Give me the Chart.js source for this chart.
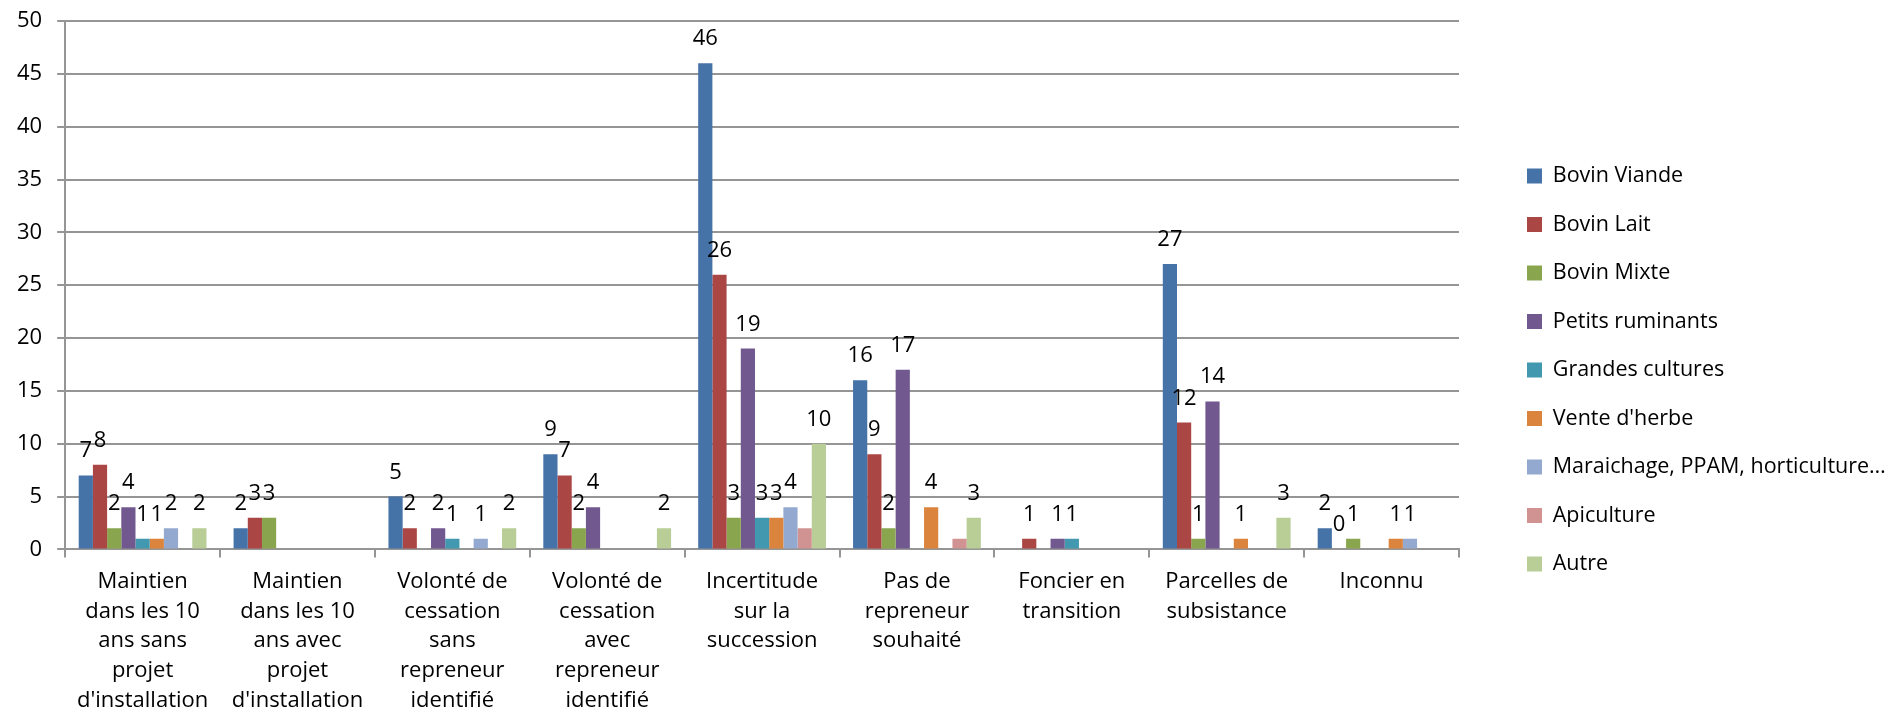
<!DOCTYPE html>
<html>
<head>
<meta charset="utf-8">
<script src="https://cdn.jsdelivr.net/npm/chart.js@4"></script>
<style>
  html, body { margin: 0; padding: 0; background: #fff; }
  #wrap { width: 1891px; height: 725px; }
</style>
</head>
<body>
<div id="wrap"><canvas id="chart"></canvas></div>
<script>
// categories (multi-line, as in the original axis)
const categories = [
    ['Maintien', 'dans les 10', 'ans sans', 'projet', "d'installation"],
    ['Maintien', 'dans les 10', 'ans avec', 'projet', "d'installation"],
    ['Volonté de', 'cessation', 'sans', 'repreneur', 'identifié'],
    ['Volonté de', 'cessation', 'avec', 'repreneur', 'identifié'],
    ['Incertitude', 'sur la', 'succession'],
    ['Pas de', 'repreneur', 'souhaité'],
    ['Foncier en', 'transition'],
    ['Parcelles de', 'subsistance'],
    ['Inconnu']
];

// series values, one array per series (null = no bar)
const bovinViande   = [7, 2, 5, 9, 46, 16, null, 27, 2];
const bovinLait     = [8, 3, 2, 7, 26, 9, 1, 12, 0];
const bovinMixte    = [2, 3, null, 2, 3, 2, null, 1, 1];
const petitsRum     = [4, null, 2, 4, 19, 17, 1, 14, null];
const grandesCult   = [1, null, 1, null, 3, null, 1, null, null];
const venteHerbe    = [1, null, null, null, 3, 4, null, 1, 1];
const maraichage    = [2, null, 1, null, 4, null, null, null, 1];
const apiculture    = [null, null, null, null, 2, 1, null, null, null];
const autre         = [2, null, 2, 2, 10, 3, null, 3, null];

const seriesNames = ['Bovin Viande', 'Bovin Lait', 'Bovin Mixte', 'Petits ruminants',
    'Grandes cultures', "Vente d'herbe", 'Maraichage, PPAM, horticulture…', 'Apiculture', 'Autre'];
const seriesValues = [bovinViande, bovinLait, bovinMixte, petitsRum, grandesCult,
    venteHerbe, maraichage, apiculture, autre];
const seriesColors = ['#4572A7', '#AA4643', '#89A54E', '#71588F', '#4198AF',
    '#DB843D', '#93A9CF', '#D19392', '#B9CD96'];
// Apiculture has no value labels in the original
const unlabelled = ['Apiculture'];

const yTicks = [0, 5, 10, 15, 20, 25, 30, 35, 40, 45, 50];

const FONT = '"Open Sans", Lato, sans-serif';
const FONT_SIZE = 22;
const LEGEND_SIZE = 21.5;
const gridColor = '#959595';
const legendWidth = 432;   // space kept right of the plot
const legendShift = { x: 41, y: -3 };

// draws the value above each bar
const valueLabels = {
    id: 'valueLabels',
    afterDatasetsDraw(chart) {
        const ctx = chart.ctx;
        ctx.save();
        ctx.font = FONT_SIZE + 'px ' + FONT;
        ctx.fillStyle = '#000';
        ctx.textAlign = 'center';
        ctx.textBaseline = 'alphabetic';
        chart.data.datasets.forEach((ds, i) => {
            if (unlabelled.includes(ds.label)) return;
            const meta = chart.getDatasetMeta(i);
            meta.data.forEach((bar, j) => {
                const v = ds.data[j];
                if (v === null || v === undefined) return;
                ctx.fillText(String(v), bar.x, bar.y - 18);
            });
        });
        ctx.restore();
    }
};

// nudges the legend block inside its reserved space
const legendNudge = {
    id: 'legendNudge',
    afterLayout(chart) {
        const lg = chart.legend;
        if (!lg) return;
        lg.left += legendShift.x;
        lg.right += legendShift.x;
        lg.top += legendShift.y;
        lg.bottom += legendShift.y;
    }
};

function drawChart() {
    const datasets = seriesNames.map((name, i) => ({
        label: name,
        data: seriesValues[i],
        backgroundColor: seriesColors[i],
        borderWidth: 0,
        barPercentage: 1,
        categoryPercentage: 0.825
    }));

    const chart = new Chart(document.getElementById('chart'), {
        type: 'bar',
        data: { labels: categories, datasets: datasets },
        options: {
            responsive: true,
            maintainAspectRatio: false,
            animation: false,
            layout: { padding: { left: 2, top: 21, right: 0, bottom: 0 } },
            plugins: {
                tooltip: { enabled: false },
                legend: {
                    position: 'right',
                    align: 'center',
                    labels: {
                        boxWidth: 15,
                        boxHeight: 15,
                        padding: 27,
                        color: '#000',
                        font: { family: FONT, size: LEGEND_SIZE }
                    }
                }
            },
            scales: {
                x: {
                    grid: {
                        display: true,
                        drawOnChartArea: false,
                        drawTicks: true,
                        tickLength: 8,
                        offset: true,
                        color: gridColor,
                        lineWidth: 2
                    },
                    border: { color: gridColor, width: 2 },
                    ticks: {
                        autoSkip: false,
                        maxRotation: 0,
                        minRotation: 0,
                        padding: 9,
                        color: '#000',
                        font: { family: FONT, size: FONT_SIZE, lineHeight: 1.36 }
                    }
                },
                y: {
                    min: 0,
                    max: 50,
                    afterBuildTicks: scale => { scale.ticks = yTicks.map(v => ({ value: v })); },
                    afterFit: scale => { scale.paddingTop = 0; scale.paddingBottom = 0; },
                    grid: { color: gridColor, lineWidth: 2, tickLength: 8 },
                    border: { color: gridColor, width: 2 },
                    ticks: {
                        padding: 15,
                        color: '#000',
                        font: { family: FONT, size: FONT_SIZE }
                    }
                }
            }
        },
        plugins: [valueLabels, legendNudge]
    });

    // keep a fixed width for the legend column so the plot ends where the original does
    const legendFit = chart.legend.fit;
    chart.legend.fit = function () {
        legendFit.call(this);
        this.width = legendWidth;
    };
    chart.update();
}

// make sure the installed font is ready before measuring text
document.fonts.load(FONT_SIZE + 'px "Open Sans"').then(drawChart, drawChart);
</script>
</body>
</html>
